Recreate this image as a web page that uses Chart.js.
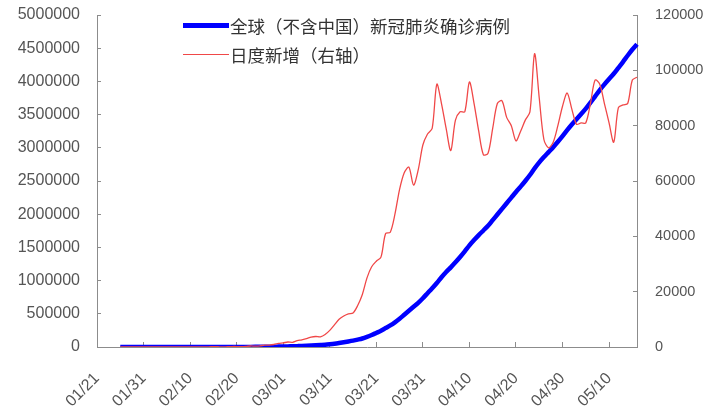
<!DOCTYPE html>
<html>
<head>
<meta charset="utf-8">
<script src="https://cdn.jsdelivr.net/npm/chart.js@4"></script>
<style>
  html, body { margin: 0; padding: 0; background: #fff; }
  #wrap { position: relative; width: 712px; height: 407px; }
  #legend { position: absolute; left: 183px; top: 11px; font-family: "Noto Sans CJK SC", sans-serif; font-size: 17.5px; color: #333; }
  .row { display: flex; align-items: center; height: 29px; white-space: nowrap; }
  .swatch { width: 46px; margin-right: 1px; }
</style>
</head>
<body>
<div id="wrap">
  <canvas id="c" width="712" height="407"></canvas>
  <div id="legend"></div>
</div>
<script>
// Daily categories: 2020-01-21 through 2020-05-16
const startDate = new Date(2020, 0, 21);
const dayCount = 117;
const dates = [];
for (let i = 0; i < dayCount; i++) {
  const d = new Date(startDate.getFullYear(), startDate.getMonth(), startDate.getDate() + i);
  dates.push(String(d.getMonth() + 1).padStart(2, '0') + '/' + String(d.getDate()).padStart(2, '0'));
}

// Cumulative confirmed cases worldwide, excluding China (left axis)
const cumulativeCases = [
  null, null, null, null, null,
  60, 80, 100, 130, 150, 160, 180, 200, 220, 260,
  290, 320, 370, 400, 420, 450, 490, 510, 520, 530,
  560, 690, 780, 800, 910, 1080, 1200, 1400, 1770, 2100,
  2500, 3200, 3900, 4800, 6100,
  7200, 9000, 10600, 12700, 15000, 18000, 21500, 25500, 30000, 35000,
  42000, 50000, 60000, 71000, 83000, 96000, 111000, 128000, 152000, 180000,
  212000, 245000, 285000, 325000, 372000, 425000, 485000, 545000, 605000, 665000,
  735000, 810000, 885000, 965000, 1050000, 1130000, 1200000, 1275000, 1355000, 1440000,
  1530000, 1610000, 1685000, 1755000, 1825000, 1910000, 1995000, 2080000, 2165000, 2250000,
  2335000, 2415000, 2500000, 2590000, 2690000, 2780000, 2860000, 2935000, 3010000, 3090000,
  3175000, 3265000, 3350000, 3430000, 3510000, 3590000, 3680000, 3775000, 3870000, 3955000,
  4035000, 4115000, 4205000, 4295000, 4390000, 4480000, 4560000
];

// Daily new cases (right axis)
const dailyNew = [
  null, null, null, null, null,
  20, 30, 20, 40, 30, 40, 30, 40, 20, 50,
  30, 40, 40, 30, 50, 30, 40, 20, 30, 40,
  130, 90, 20, 110, 170, 170, 120, 200, 370, 330,
  400, 700, 700, 900, 1300,
  1500, 1800, 1700, 2300, 2600, 3000, 3600, 3800, 3700, 4500,
  6000, 8000, 10000, 11200, 12000, 12300, 15000, 19000, 25000, 29000,
  31000, 32500, 41000, 41500, 48000, 57000, 63000, 65000, 58500, 64000,
  73000, 77000, 79000, 95000, 88000, 79000, 71000, 82000, 85000, 85000,
  95800, 88000, 78000, 69500, 70000, 79000, 88000, 89000, 83000, 80000,
  74500, 78000, 82000, 85000, 106000, 90000, 75000, 72000, 74000, 80000,
  87000, 91800, 86000, 80500, 81000, 81000, 88000, 96500, 95000, 88000,
  81000, 74000, 86500, 87500, 88000, 96500, 97500
];

// Axis ranges and tick steps
const leftTicks = { min: 0, max: 5000000, step: 500000 };
const rightTicks = { min: 0, max: 120000, step: 20000 };
const labelEvery = 10;

const seriesNames = ['全球（不含中国）新冠肺炎确诊病例', '日度新增（右轴）'];

const axisColor = '#8c8c8c';
const tickFont = { family: '"Liberation Sans", Arial, sans-serif' };

// Vertical axes: fixed width, and only half a label of room above/below
const fitVertical = (width) => (scale) => {
  scale.width = width;
  scale.paddingTop = 8;
  scale.paddingBottom = 8;
};

const chart = new Chart(document.getElementById('c'), {
  type: 'line',
  data: {
    labels: dates,
    datasets: [
      {
        label: seriesNames[0],
        data: cumulativeCases,
        yAxisID: 'y',
        borderColor: '#0000ff',
        borderWidth: 4.5,
        pointRadius: 0,
        tension: 0.4,
        cubicInterpolationMode: 'monotone',
        order: 1
      },
      {
        label: seriesNames[1],
        data: dailyNew,
        yAxisID: 'y2',
        borderColor: '#f04848',
        borderWidth: 1.3,
        pointRadius: 0,
        tension: 0.3,
        order: 0
      }
    ]
  },
  options: {
    responsive: false,
    animation: false,
    devicePixelRatio: 1,
    layout: { padding: { top: 15, bottom: 0, left: 0, right: 0 } },
    plugins: { legend: { display: false }, tooltip: { enabled: false } },
    scales: {
      x: {
        type: 'category',
        offset: false,
        grid: { drawOnChartArea: false, drawTicks: true, tickLength: -5, color: axisColor },
        border: { display: true, color: axisColor, width: 1 },
        ticks: {
          autoSkip: false, maxRotation: 45, minRotation: 45, padding: 27,
          color: '#555', font: { ...tickFont, size: 16 }
        },
        afterBuildTicks: (scale) => { scale.ticks = scale.ticks.filter((t, i) => i % labelEvery === 0); },
        afterFit: (scale) => { scale.height = 60; }
      },
      y: {
        position: 'left',
        min: leftTicks.min, max: leftTicks.max,
        grid: { drawOnChartArea: false, drawTicks: true, tickLength: -4, color: axisColor },
        border: { display: true, color: axisColor, width: 1 },
        ticks: {
          stepSize: leftTicks.step, padding: 21, color: '#555',
          font: { ...tickFont, size: 16 },
          callback: (v) => String(v)
        },
        afterFit: fitVertical(97)
      },
      y2: {
        position: 'right',
        min: rightTicks.min, max: rightTicks.max,
        grid: { drawOnChartArea: false, drawTicks: true, tickLength: -4, color: axisColor },
        border: { display: true, color: axisColor, width: 1 },
        ticks: {
          stepSize: rightTicks.step, padding: 22, color: '#555',
          font: { ...tickFont, size: 14.5 },
          callback: (v) => String(v)
        },
        afterFit: fitVertical(75)
      }
    }
  }
});

// Legend rows built from the datasets (series order as listed)
const legendEl = document.getElementById('legend');
chart.data.datasets.forEach((ds) => {
  const row = document.createElement('div');
  row.className = 'row';
  const sw = document.createElement('span');
  sw.className = 'swatch';
  sw.style.height = Math.max(1, Math.round(ds.borderWidth)) + 'px';
  sw.style.background = ds.borderColor;
  const txt = document.createElement('span');
  txt.textContent = ds.label;
  row.appendChild(sw);
  row.appendChild(txt);
  legendEl.appendChild(row);
});
</script>
</body>
</html>
